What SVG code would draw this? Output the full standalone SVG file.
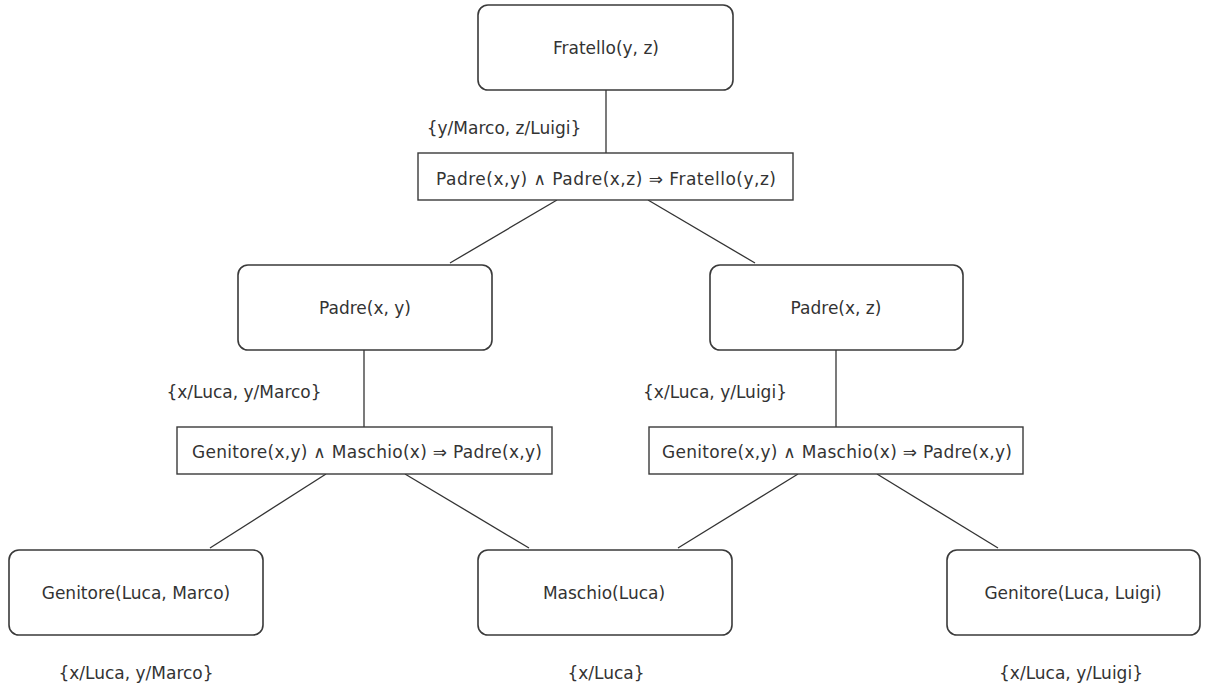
<svg xmlns="http://www.w3.org/2000/svg" width="1208" height="688" viewBox="0 0 1208 688">
  <style>
    .bg { fill: #ffffff; }
    .node { fill: #ffffff; stroke: #3a3a3a; stroke-width: 1.6; }
    .rule { fill: #ffffff; stroke: #3a3a3a; stroke-width: 1.4; }
    .edge { stroke: #333333; stroke-width: 1.3; fill: none; }
    text { font-family: "DejaVu Sans", "Verdana", sans-serif; font-size: 17px; fill: #333333; text-anchor: middle; dominant-baseline: central; }
  </style>
  <rect class="bg" x="0" y="0" width="1208" height="688"/>

  <!-- connectors -->
  <g id="connectors">
    <line class="edge" x1="606" y1="90" x2="606" y2="153"/>
    <line class="edge" x1="557" y1="200" x2="450" y2="263"/>
    <line class="edge" x1="648" y1="200" x2="755" y2="263"/>
    <line class="edge" x1="364" y1="350" x2="364" y2="427"/>
    <line class="edge" x1="836" y1="350" x2="836" y2="427"/>
    <line class="edge" x1="326" y1="474" x2="210" y2="548"/>
    <line class="edge" x1="405" y1="474" x2="529" y2="548"/>
    <line class="edge" x1="798" y1="474" x2="678" y2="548"/>
    <line class="edge" x1="877" y1="474" x2="998" y2="548"/>
  </g>

  <!-- substitution labels -->
  <g id="labels">
    <text x="504" y="128">{y/Marco, z/Luigi}</text>
    <text x="244" y="392">{x/Luca, y/Marco}</text>
    <text x="715" y="392">{x/Luca, y/Luigi}</text>
    <text x="136" y="673">{x/Luca, y/Marco}</text>
    <text x="606" y="673">{x/Luca}</text>
    <text x="1071" y="673">{x/Luca, y/Luigi}</text>
  </g>

  <g id="fratello">
    <rect class="node" x="478" y="5" width="255" height="85" rx="10"/>
    <text x="606" y="48">Fratello(y, z)</text>
  </g>

  <g id="rule-fratello">
    <rect class="rule" x="418" y="153" width="375" height="47"/>
    <text x="606" y="179" textLength="340" lengthAdjust="spacing">Padre(x,y) ∧ Padre(x,z) ⇒ Fratello(y,z)</text>
  </g>

  <g id="padre-xy">
    <rect class="node" x="238" y="265" width="254" height="85" rx="10"/>
    <text x="365" y="308">Padre(x, y)</text>
  </g>

  <g id="padre-xz">
    <rect class="node" x="710" y="265" width="253" height="85" rx="10"/>
    <text x="836" y="308">Padre(x, z)</text>
  </g>

  <g id="rule-padre-left">
    <rect class="rule" x="177" y="427" width="375" height="47"/>
    <text x="367" y="452" textLength="350" lengthAdjust="spacing">Genitore(x,y) ∧ Maschio(x) ⇒ Padre(x,y)</text>
  </g>

  <g id="rule-padre-right">
    <rect class="rule" x="649" y="427" width="374" height="47"/>
    <text x="837" y="452" textLength="350" lengthAdjust="spacing">Genitore(x,y) ∧ Maschio(x) ⇒ Padre(x,y)</text>
  </g>

  <g id="genitore-marco">
    <rect class="node" x="9" y="550" width="254" height="85" rx="10"/>
    <text x="136" y="593">Genitore(Luca, Marco)</text>
  </g>

  <g id="maschio-luca">
    <rect class="node" x="478" y="550" width="254" height="85" rx="10"/>
    <text x="604" y="593">Maschio(Luca)</text>
  </g>

  <g id="genitore-luigi">
    <rect class="node" x="947" y="550" width="253" height="85" rx="10"/>
    <text x="1073" y="593">Genitore(Luca, Luigi)</text>
  </g>
</svg>
